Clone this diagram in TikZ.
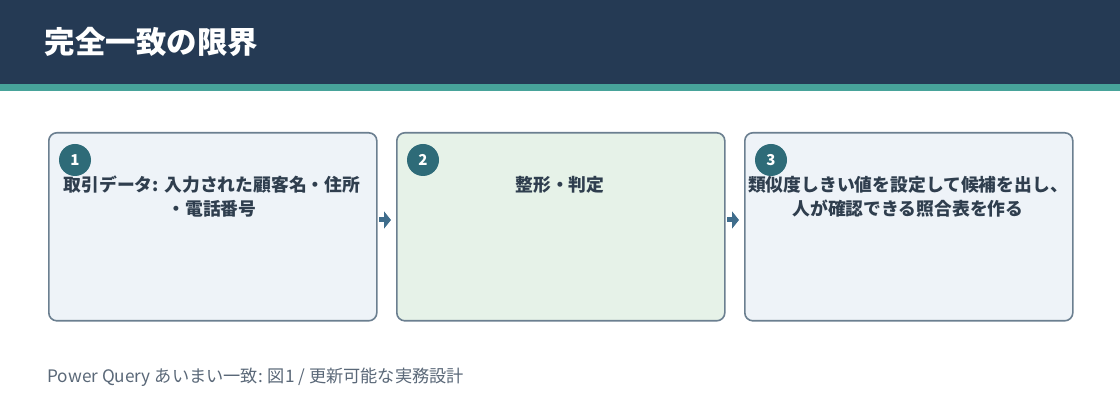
\documentclass[tikz,border=0pt]{standalone}
\usepackage{fontspec}
\setmainfont{Noto Sans CJK JP}
\usetikzlibrary{arrows.meta}
\definecolor{navy}{HTML}{253A54}
\definecolor{teal}{HTML}{47A39A}
\definecolor{bordc}{HTML}{6B7F90}
\definecolor{fillb}{HTML}{EEF3F8}
\definecolor{fillg}{HTML}{E6F2E8}
\definecolor{circc}{HTML}{2E6B78}
\definecolor{txtc}{HTML}{2F3E4E}
\definecolor{footc}{HTML}{5A6878}
\definecolor{arrc}{HTML}{3F6D8C}
\begin{document}
\begin{tikzpicture}[x=1pt,y=1pt,
  stepbox/.style={draw=bordc,line width=1.6pt,rounded corners=8pt,minimum width=328pt,minimum height=188pt,anchor=north west,inner sep=0pt},
  badge/.style={circle,fill=circc,minimum size=32pt,inner sep=0pt,text=white,font=\bfseries\fontsize{15}{15}\selectfont},
  body/.style={text=txtc,font=\bfseries\fontsize{17.8}{24}\selectfont,align=center},
  conn/.style={draw=arrc,line width=5pt,-{Triangle[length=7pt,width=17pt]},shorten <=3pt,shorten >=5pt}]
\useasboundingbox (0,0) rectangle (1120,420);
\fill[white] (0,0) rectangle (1120,420);
\fill[navy] (0,336) rectangle (1120,420);
\fill[teal] (0,329) rectangle (1120,336);
\node[anchor=west,text=white,font=\bfseries\fontsize{30.5}{34}\selectfont] (title) at (41,378) {完全一致の限界};
\node[stepbox,fill=fillb] (b1) at (48,288) {};
\node[stepbox,fill=fillg] (b2) at (396,288) {};
\node[stepbox,fill=fillb] (b3) at (744,288) {};
\node[badge] (c1) at (75,260) {1};
\node[badge] (c2) at (423,260) {2};
\node[badge] (c3) at (771,260) {3};
\node[body] (t1) at (212,223) {取引データ: 入力された顧客名・住所\\・電話番号};
\node[body] (t2) at (560,235) {整形・判定};
\node[body] (t3) at (908,223) {類似度しきい値を設定して候補を出し、\\人が確認できる照合表を作る};
\coordinate (a1) at (376,200);
\coordinate (a2) at (396,200);
\coordinate (a3) at (724,200);
\coordinate (a4) at (744,200);
\draw[conn] (a1) -- (a2);
\draw[conn] (a3) -- (a4);
\node[anchor=west,text=footc,font=\fontsize{17.2}{19}\selectfont] (foot) at (44,43) {Power Query あいまい一致: 図1 / 更新可能な実務設計};
\end{tikzpicture}
\end{document}
